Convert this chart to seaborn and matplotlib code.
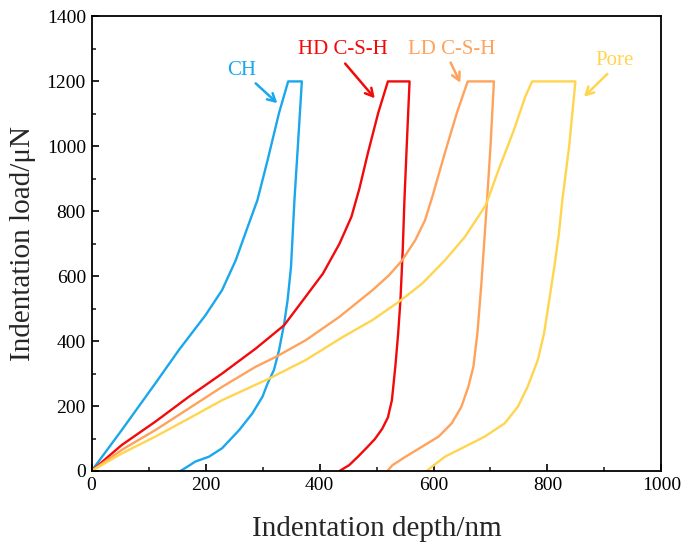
import numpy as np
import pandas as pd
import matplotlib
matplotlib.use("Agg")
import matplotlib.pyplot as plt
import seaborn as sns

# --- data: loading -> hold -> unloading ---
ch_depth = [0, 53, 112, 153, 200, 229, 253, 274, 291, 309, 329, 345, 369,
            362, 356, 350, 344, 338, 329, 320, 309, 300, 282, 259, 229, 206, 182, 168, 156]
ch_load = [0, 126, 270, 372, 480, 557, 649, 752, 834, 958, 1103, 1200, 1200,
           1000, 834, 629, 526, 454, 372, 311, 270, 229, 177, 126, 70, 44, 29, 13, 0]

hd_depth = [0, 53, 112, 171, 229, 288, 338, 371, 406, 435, 456, 470, 485, 503, 520, 558,
            553, 549, 546, 542, 538, 533, 527, 520, 510, 497, 483, 468, 452, 435]
hd_load = [0, 80, 152, 229, 300, 377, 449, 526, 608, 700, 783, 870, 980, 1103, 1200, 1200,
           1000, 834, 680, 526, 424, 321, 218, 165, 130, 98, 72, 45, 18, 0]

ld_depth = [0, 53, 112, 171, 229, 288, 324, 376, 435, 493, 522, 545, 568, 585, 598,
            620, 641, 660, 706,
            700, 694, 690, 684, 677, 670, 661, 649, 632, 609, 580, 551, 528, 519]
ld_load = [0, 65, 126, 193, 259, 321, 352, 403, 475, 557, 603, 649, 711, 772, 845,
           980, 1103, 1200, 1200,
           1000, 834, 731, 577, 424, 321, 259, 198, 147, 106, 75, 44, 18, 0]

pore_depth = [0, 53, 112, 171, 229, 312, 376, 441, 493, 539, 580, 620, 655, 678, 692,
              714, 741, 761, 773, 849,
              838, 826, 820, 812, 803, 794, 783, 765, 748, 725, 690, 655, 620, 597, 588]
pore_load = [0, 54, 106, 162, 218, 285, 342, 413, 465, 521, 577, 649, 721, 782, 820,
             927, 1050, 1153, 1200, 1200,
             1000, 834, 731, 629, 526, 424, 342, 259, 198, 147, 106, 75, 44, 13, 0]

names = ["CH", "HD C-S-H", "LD C-S-H", "Pore"]
colors = ["#1AA7EC", "#F20A0A", "#FFA25C", "#FFD54F"]

frames = []
for name, d, l in zip(names, [ch_depth, hd_depth, ld_depth, pore_depth],
                      [ch_load, hd_load, ld_load, pore_load]):
    frames.append(pd.DataFrame({"depth": d, "load": l, "phase": name}))
df = pd.concat(frames, ignore_index=True)

sns.set_style("ticks")
plt.rcParams["font.family"] = ["Liberation Serif", "DejaVu Serif"]

fig = plt.figure(figsize=(6.83, 5.42), dpi=100)
ax = fig.add_axes([0.134, 0.131, 0.8345, 0.8386])

for name, c in zip(names, colors):
    sub = df[df["phase"] == name]
    sns.lineplot(data=sub, x="depth", y="load", sort=False, estimator=None,
                 color=c, linewidth=1.7, ax=ax, legend=False,
                 solid_joinstyle="round", solid_capstyle="round")

ax.set_xlim(0, 1000)
ax.set_ylim(0, 1400)
ax.set_xticks(np.arange(0, 1001, 200))
ax.set_yticks(np.arange(0, 1401, 200))
ax.set_xticks(np.arange(100, 1000, 200), minor=True)
ax.set_yticks(np.arange(100, 1400, 200), minor=True)
ax.tick_params(axis="both", which="major", direction="in", length=5, width=1.2,
               labelsize=14, colors="black", pad=4)
ax.tick_params(axis="both", which="minor", direction="in", length=3, width=1.2)
ax.tick_params(top=False, right=False, which="both")
for s in ax.spines.values():
    s.set_visible(True)
    s.set_linewidth(1.3)
    s.set_color("black")

ax.set_xlabel("Indentation depth/nm", fontsize=21, labelpad=16)
ax.set_ylabel("Indentation load/μN", fontsize=21, labelpad=8)

# annotations: label text, text position, arrow start, arrow tip
ann_labels = ["CH", "HD C-S-H", "LD C-S-H", "Pore"]
ann_text_pos = [(263, 1234), (441, 1297), (632, 1297), (918, 1263)]
ann_arrow_from = [(288, 1194), (445, 1255), (630, 1258), (905, 1223)]
ann_arrow_to = [(326, 1133), (497, 1148), (647, 1196), (864, 1153)]
for txt, pos, a0, a1, c in zip(ann_labels, ann_text_pos, ann_arrow_from,
                               ann_arrow_to, colors):
    ax.text(pos[0], pos[1], txt, color=c, fontsize=15, ha="center", va="center")
    ax.annotate("", xy=a1, xytext=a0,
                arrowprops=dict(arrowstyle="->,head_length=0.55,head_width=0.3",
                                color=c, lw=1.8, shrinkA=0, shrinkB=0))

fig.savefig("out.png", dpi=100)
